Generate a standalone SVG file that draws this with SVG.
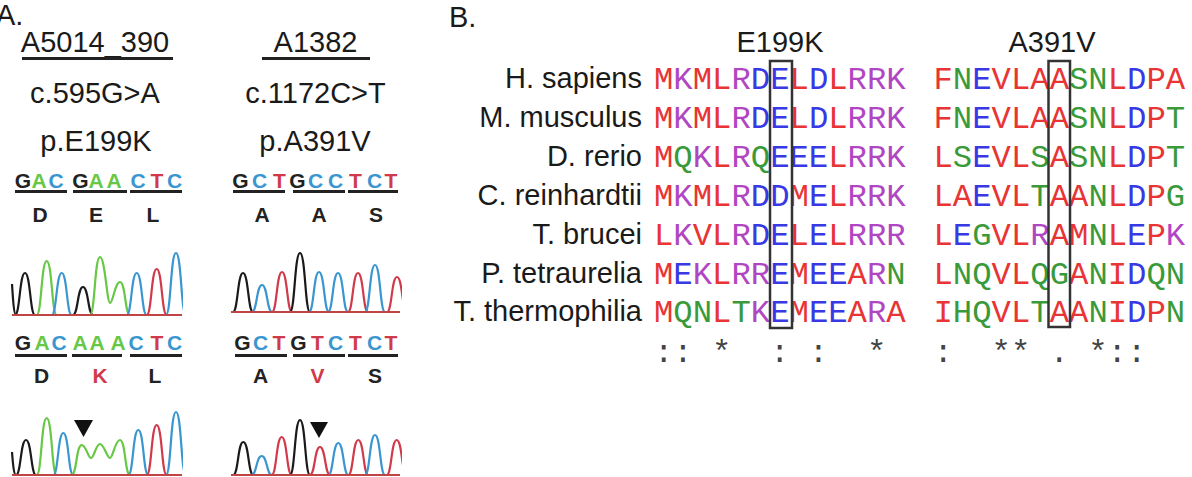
<svg xmlns="http://www.w3.org/2000/svg" width="1192" height="477" viewBox="0 0 1192 477">
<style>
.lbl{font-family:"Liberation Sans",Arial,sans-serif;font-size:29px;fill:#1a1a1a}
.mid{text-anchor:middle}
.end{text-anchor:end}
.cod{font-family:"Liberation Sans",Arial,sans-serif;font-size:21px;font-weight:bold;text-anchor:middle}
.seq{font-family:"Liberation Mono","Courier New",monospace;font-size:32.25px}
.cons{font-family:"Liberation Mono","Courier New",monospace;font-size:32.25px;fill:#444;text-anchor:middle}
.r{fill:#e83434}.b{fill:#3838e4}.m{fill:#b046c2}.g{fill:#3a9a3a}
.k{fill:#222}.cg{fill:#66c844}.cb{fill:#3a96d0}.cr{fill:#d03a4a}
.ul{stroke:#222;stroke-width:3;fill:none}
.box{fill:none;stroke:#333;stroke-width:2.5}
.tk{fill:none;stroke:#1a1a1a;stroke-width:2.2}
.tg{fill:none;stroke:#66c844;stroke-width:2.2}
.tb{fill:none;stroke:#3a96d0;stroke-width:2.2}
.tr{fill:none;stroke:#d03a4a;stroke-width:2.2}
.base{stroke:#c04444;stroke-width:2.2}
</style>
<defs>
<clipPath id="cl"><rect x="11" y="230" width="172" height="247"/></clipPath>
<clipPath id="cr"><rect x="230" y="230" width="172" height="247"/></clipPath>
</defs>

<g id="panelA">
<text class="lbl" x="-4" y="25">A.</text>
<g id="A5014_390">
<text class="lbl mid" x="95" y="52">A5014_390</text>
<line class="ul" x1="22" y1="58.5" x2="173" y2="58.5"/>
<text class="lbl mid" x="95" y="103">c.595G&gt;A</text>
<text class="lbl mid" x="96" y="151">p.E199K</text>
<g id="wtL">
<text class="cod" y="188"><tspan class="k" x="23">G</tspan><tspan class="cg" x="39">A</tspan><tspan class="cb" x="56">C</tspan><tspan class="k" x="80.5">G</tspan><tspan class="cg" x="96">A</tspan><tspan class="cg" x="114">A</tspan><tspan class="cb" x="138">C</tspan><tspan class="cr" x="157">T</tspan><tspan class="cb" x="174.5">C</tspan></text>
<line class="ul" x1="15" y1="191.5" x2="67" y2="191.5"/><line class="ul" x1="73" y1="191.5" x2="127" y2="191.5"/><line class="ul" x1="130" y1="191.5" x2="182" y2="191.5"/>
<text class="cod k" y="222"><tspan x="40">D</tspan><tspan x="96">E</tspan><tspan x="153">L</tspan></text>
</g>
<g id="chromTL" clip-path="url(#cl)">
<path class="tk" d="M12,284 C13,300 14,315 16,315"/>
<path class="tk" d="M15,315 C20,315 19.5,273 25,273 C30.5,273 30,315 35,315"/>
<path class="tg" d="M36.7,315 C41.7,315 41.2,261 46.7,261 C52.2,261 51.7,315 56.7,315"/>
<path class="tb" d="M51.7,315 C56.7,315 56.2,273 61.7,273 C67.2,273 66.7,315 71.7,315"/>
<path class="tk" d="M73,315 C78,315 77.5,287 83,287 C88.5,287 88,315 93,315"/>
<path class="tg" d="M90,315 C95,315 94.5,257 100,257 C105,257 107,303 110,303 C113,303 115,282 120,282 C125.5,282 125,315 130,315"/>
<path class="tb" d="M126.7,315 C131.7,315 131.2,273 136.7,273 C142.2,273 141.7,315 146.7,315"/>
<path class="tr" d="M146.7,315 C151.7,315 151.2,269 156.7,269 C162.2,269 161.7,315 166.7,315"/>
<path class="tb" d="M166,315 C171,315 170.5,253 176,253 C181.5,253 181,315 186,315"/>
<line class="base" x1="12" y1="315" x2="182" y2="315"/>
</g>
<g id="mutL">
<text class="cod" y="350"><tspan class="k" x="23">G</tspan><tspan class="cg" x="42">A</tspan><tspan class="cb" x="59">C</tspan><tspan class="cg" x="80">A</tspan><tspan class="cg" x="97">A</tspan><tspan class="cg" x="118">A</tspan><tspan class="cb" x="136">C</tspan><tspan class="cr" x="157">T</tspan><tspan class="cb" x="174.5">C</tspan></text>
<line class="ul" x1="15" y1="355.5" x2="67" y2="355.5"/><line class="ul" x1="72" y1="355.5" x2="122" y2="355.5"/><line class="ul" x1="130" y1="355.5" x2="182" y2="355.5"/>
<text class="cod" y="383"><tspan class="k" x="41.5">D</tspan><tspan class="cr" x="100">K</tspan><tspan class="k" x="155">L</tspan></text>
</g>
<g id="chromBL" clip-path="url(#cl)">
<path class="tk" d="M12,452 C13,465 14,475 16,475"/>
<path class="tk" d="M16,475 C21,475 20.5,440 26,440 C31.5,440 31,475 36,475"/>
<path class="tg" d="M36.7,475 C41.7,475 41.2,418 46.7,418 C52.2,418 51.7,475 56.7,475"/>
<path class="tb" d="M53.3,475 C58.3,475 57.8,433 63.3,433 C68.8,433 68.3,475 73.3,475"/>
<path class="tg" d="M71.7,475 C76.7,475 76.2,445 81.7,445 C86,445 88,458 91,458 C94,458 96,444 100,444 C104,444 107,458 110,458 C113,458 115,440 120,440 C125.5,440 125,475 130,475"/>
<path class="tb" d="M128.3,475 C133.3,475 132.8,430 138.3,430 C143.8,430 143.3,475 148.3,475"/>
<path class="tr" d="M146.7,475 C151.7,475 151.2,425 156.7,425 C162.2,425 161.7,475 166.7,475"/>
<path class="tb" d="M166,475 C171,475 170.5,412 176,412 C181.5,412 181,475 186,475"/>
<line class="base" x1="12" y1="475" x2="182" y2="475"/>
</g>
<polygon id="arrowL" points="74,420 93,420 83.5,437" fill="#111"/>
</g>

<g id="A1382">
<text class="lbl mid" x="315.5" y="52">A1382</text>
<line class="ul" x1="262" y1="58.5" x2="370" y2="58.5"/>
<text class="lbl mid" x="315.5" y="103">c.1172C&gt;T</text>
<text class="lbl mid" x="315" y="151">p.A391V</text>
<g id="wtR">
<text class="cod" y="188"><tspan class="k" x="240.5">G</tspan><tspan class="cb" x="259.5">C</tspan><tspan class="cr" x="279.5">T</tspan><tspan class="k" x="297.5">G</tspan><tspan class="cb" x="315.5">C</tspan><tspan class="cb" x="335.5">C</tspan><tspan class="cr" x="355.5">T</tspan><tspan class="cb" x="374.5">C</tspan><tspan class="cr" x="391">T</tspan></text>
<line class="ul" x1="233" y1="191.5" x2="285" y2="191.5"/><line class="ul" x1="293" y1="191.5" x2="345" y2="191.5"/><line class="ul" x1="348" y1="191.5" x2="398" y2="191.5"/>
<text class="cod k" y="222"><tspan x="262">A</tspan><tspan x="319">A</tspan><tspan x="376">S</tspan></text>
</g>
<g id="chromTR" clip-path="url(#cr)">
<path class="tk" d="M233,312 C238,312 237.5,273 243,273 C248.5,273 248,312 253,312"/>
<path class="tb" d="M252,312 C257,312 256.5,285 262,285 C267.5,285 267,312 272,312"/>
<path class="tr" d="M272,312 C277,312 276.5,272 282,272 C287.5,272 287,312 292,312"/>
<path class="tk" d="M290,312 C295,312 294.5,253 300,253 C305.5,253 305,312 310,312"/>
<path class="tb" d="M309,312 C314,312 313.5,272 319,272 C324.5,272 324,312 329,312"/>
<path class="tb" d="M328,312 C333,312 332.5,273 338,273 C343.5,273 343,312 348,312"/>
<path class="tr" d="M348,312 C353,312 352.5,273 358,273 C363.5,273 363,312 368,312"/>
<path class="tb" d="M365,312 C370,312 369.5,265 375,265 C380.5,265 380,312 385,312"/>
<path class="tr" d="M387,312 C392,312 391.5,277 397,277 C402.5,277 402,312 407,312"/>
<line class="base" x1="231" y1="312" x2="400" y2="312"/>
</g>
<g id="mutR">
<text class="cod" y="350"><tspan class="k" x="242.5">G</tspan><tspan class="cb" x="260.5">C</tspan><tspan class="cr" x="279">T</tspan><tspan class="k" x="298.5">G</tspan><tspan class="cr" x="317.5">T</tspan><tspan class="cb" x="335.5">C</tspan><tspan class="cr" x="355.5">T</tspan><tspan class="cb" x="374.5">C</tspan><tspan class="cr" x="391">T</tspan></text>
<line class="ul" x1="235" y1="355.5" x2="287" y2="355.5"/><line class="ul" x1="293" y1="355.5" x2="345" y2="355.5"/><line class="ul" x1="348" y1="355.5" x2="398" y2="355.5"/>
<text class="cod" y="383"><tspan class="k" x="260.5">A</tspan><tspan class="cr" x="317.5">V</tspan><tspan class="k" x="375">S</tspan></text>
</g>
<g id="chromBR" clip-path="url(#cr)">
<path class="tk" d="M233.3,475 C238.3,475 237.8,442 243.3,442 C248.8,442 248.3,475 253.3,475"/>
<path class="tb" d="M251.7,475 C256.7,475 256.2,456 261.7,456 C267.2,456 266.7,475 271.7,475"/>
<path class="tr" d="M271.7,475 C276.7,475 276.2,437 281.7,437 C287.2,437 286.7,475 291.7,475"/>
<path class="tk" d="M290,475 C295,475 294.5,420 300,420 C305.5,420 305,475 310,475"/>
<path class="tr" d="M310,475 C315,475 314.5,447 320,447 C325.5,447 325,475 330,475"/>
<path class="tb" d="M328.3,475 C333.3,475 332.8,443 338.3,443 C343.8,443 343.3,475 348.3,475"/>
<path class="tr" d="M348.3,475 C353.3,475 352.8,440 358.3,440 C363.8,440 363.3,475 368.3,475"/>
<path class="tb" d="M365,475 C370,475 369.5,435 375,435 C380.5,435 380,475 385,475"/>
<path class="tr" d="M386.7,475 C391.7,475 391.2,440 396.7,440 C402.2,440 401.7,475 406.7,475"/>
<line class="base" x1="231" y1="475" x2="400" y2="475"/>
</g>
<polygon id="arrowR" points="310,422 328,422 319,438" fill="#111"/>
</g>
</g>

<g id="panelB">
<text class="lbl" x="449" y="27">B.</text>
<text class="lbl mid" x="780" y="52">E199K</text>
<text class="lbl mid" x="1052" y="52">A391V</text>
<g id="species">
<text class="lbl end" x="642" y="88">H. sapiens</text>
<text class="lbl end" x="642" y="127">M. musculus</text>
<text class="lbl end" x="642" y="166">D. rerio</text>
<text class="lbl end" x="642" y="205">C. reinhardtii</text>
<text class="lbl end" x="642" y="244">T. brucei</text>
<text class="lbl end" x="642" y="283">P. tetraurelia</text>
<text class="lbl end" x="642" y="321">T. thermophilia</text>
</g>
<g id="seqE199K">
<text class="seq" x="654" y="89"><tspan class="r">M</tspan><tspan class="m">K</tspan><tspan class="r">ML</tspan><tspan class="m">R</tspan><tspan class="b">DE</tspan><tspan class="r">L</tspan><tspan class="b">D</tspan><tspan class="r">L</tspan><tspan class="m">RRK</tspan></text>
<text class="seq" x="654" y="128"><tspan class="r">M</tspan><tspan class="m">K</tspan><tspan class="r">ML</tspan><tspan class="m">R</tspan><tspan class="b">DE</tspan><tspan class="r">L</tspan><tspan class="b">D</tspan><tspan class="r">L</tspan><tspan class="m">RRK</tspan></text>
<text class="seq" x="654" y="167"><tspan class="r">M</tspan><tspan class="g">Q</tspan><tspan class="m">K</tspan><tspan class="r">L</tspan><tspan class="m">R</tspan><tspan class="g">Q</tspan><tspan class="b">EEE</tspan><tspan class="r">L</tspan><tspan class="m">RRK</tspan></text>
<text class="seq" x="654" y="206"><tspan class="r">M</tspan><tspan class="m">K</tspan><tspan class="r">ML</tspan><tspan class="m">R</tspan><tspan class="b">DD</tspan><tspan class="r">M</tspan><tspan class="b">E</tspan><tspan class="r">L</tspan><tspan class="m">RRK</tspan></text>
<text class="seq" x="654" y="245"><tspan class="r">L</tspan><tspan class="m">K</tspan><tspan class="r">VL</tspan><tspan class="m">R</tspan><tspan class="b">DE</tspan><tspan class="r">L</tspan><tspan class="b">E</tspan><tspan class="r">L</tspan><tspan class="m">RRR</tspan></text>
<text class="seq" x="654" y="284"><tspan class="r">M</tspan><tspan class="b">E</tspan><tspan class="m">K</tspan><tspan class="r">L</tspan><tspan class="m">RR</tspan><tspan class="b">E</tspan><tspan class="r">M</tspan><tspan class="b">EE</tspan><tspan class="r">A</tspan><tspan class="m">R</tspan><tspan class="g">N</tspan></text>
<text class="seq" x="654" y="322"><tspan class="r">M</tspan><tspan class="g">QN</tspan><tspan class="r">L</tspan><tspan class="g">T</tspan><tspan class="m">K</tspan><tspan class="b">E</tspan><tspan class="r">M</tspan><tspan class="b">EE</tspan><tspan class="r">A</tspan><tspan class="m">R</tspan><tspan class="r">A</tspan></text>
</g>
<g id="seqA391V">
<text class="seq" x="933.5" y="89"><tspan class="r">F</tspan><tspan class="g">N</tspan><tspan class="b">E</tspan><tspan class="r">VLAA</tspan><tspan class="g">SN</tspan><tspan class="r">L</tspan><tspan class="b">D</tspan><tspan class="r">PA</tspan></text>
<text class="seq" x="933.5" y="128"><tspan class="r">F</tspan><tspan class="g">N</tspan><tspan class="b">E</tspan><tspan class="r">VLAA</tspan><tspan class="g">SN</tspan><tspan class="r">L</tspan><tspan class="b">D</tspan><tspan class="r">P</tspan><tspan class="g">T</tspan></text>
<text class="seq" x="933.5" y="167"><tspan class="r">L</tspan><tspan class="g">S</tspan><tspan class="b">E</tspan><tspan class="r">VL</tspan><tspan class="g">S</tspan><tspan class="r">A</tspan><tspan class="g">SN</tspan><tspan class="r">L</tspan><tspan class="b">D</tspan><tspan class="r">P</tspan><tspan class="g">T</tspan></text>
<text class="seq" x="933.5" y="206"><tspan class="r">LA</tspan><tspan class="b">E</tspan><tspan class="r">VL</tspan><tspan class="g">T</tspan><tspan class="r">AA</tspan><tspan class="g">N</tspan><tspan class="r">L</tspan><tspan class="b">D</tspan><tspan class="r">P</tspan><tspan class="g">G</tspan></text>
<text class="seq" x="933.5" y="245"><tspan class="r">L</tspan><tspan class="b">E</tspan><tspan class="g">G</tspan><tspan class="r">VL</tspan><tspan class="m">R</tspan><tspan class="r">AM</tspan><tspan class="g">N</tspan><tspan class="r">L</tspan><tspan class="b">E</tspan><tspan class="r">P</tspan><tspan class="m">K</tspan></text>
<text class="seq" x="933.5" y="284"><tspan class="r">L</tspan><tspan class="g">NQ</tspan><tspan class="r">VL</tspan><tspan class="g">QG</tspan><tspan class="r">A</tspan><tspan class="g">N</tspan><tspan class="r">I</tspan><tspan class="b">D</tspan><tspan class="g">QN</tspan></text>
<text class="seq" x="933.5" y="322"><tspan class="r">I</tspan><tspan class="g">HQ</tspan><tspan class="r">VL</tspan><tspan class="g">T</tspan><tspan class="r">AA</tspan><tspan class="g">N</tspan><tspan class="r">I</tspan><tspan class="b">D</tspan><tspan class="r">P</tspan><tspan class="g">N</tspan></text>
</g>
<rect class="box" x="770" y="61" width="22" height="267"/>
<rect class="box" x="1048.5" y="61" width="21.5" height="266"/>
<g id="conservation">
<text class="cons" x="663.7" y="362">:</text>
<text class="cons" x="683" y="362">:</text>
<text class="cons" x="721.7" y="362">*</text>
<text class="cons" x="779.8" y="362">:</text>
<text class="cons" x="818.5" y="362">:</text>
<text class="cons" x="876.6" y="362">*</text>
<text class="cons" x="943.2" y="362">:</text>
<text class="cons" x="1001.2" y="362">*</text>
<text class="cons" x="1020.6" y="362">*</text>
<text class="cons" x="1059.3" y="362">.</text>
<text class="cons" x="1098" y="362">*</text>
<text class="cons" x="1117.3" y="362">:</text>
<text class="cons" x="1136.7" y="362">:</text>
</g>
</g>
</svg>
